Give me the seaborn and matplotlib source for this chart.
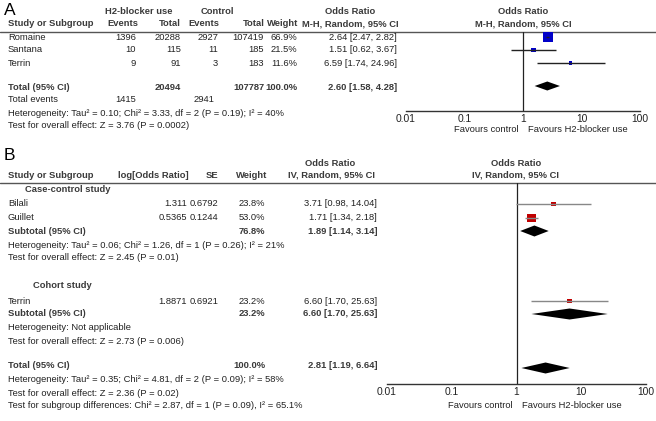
import numpy as np
import pandas as pd
import matplotlib.pyplot as plt
import seaborn as sns

# ---- data, panel A (M-H random) ----
studies_a = ["Romaine", "Santana", "Terrin"]
h2_events = [1396, 10, 9]
h2_total = [20288, 115, 91]
ctl_events = [2927, 11, 3]
ctl_total = [107419, 185, 183]
weight_a = [66.9, 21.5, 11.6]
or_a = [2.64, 1.51, 6.59]
lo_a = [2.47, 0.62, 1.74]
hi_a = [2.82, 3.67, 24.96]
total_a = [2.60, 1.58, 4.28]
total_n_a = [20494, 107787]
total_ev_a = [1415, 2941]

# ---- data, panel B (IV random, subgroups) ----
studies_b = ["Bilali", "Guillet", "Terrin"]
log_or_b = ["1.311", "0.5365", "1.8871"]
se_b = ["0.6792", "0.1244", "0.6921"]
weight_b = [23.8, 53.0, 23.2]
or_b = [3.71, 1.71, 6.60]
lo_b = [0.98, 1.34, 1.70]
hi_b = [14.04, 2.18, 25.63]
sub_names = ["Case-control study", "Cohort study"]
sub_weight = [76.8, 23.2]
sub_or = [[1.89, 1.14, 3.14], [6.60, 1.70, 25.63]]
total_b = [2.81, 1.19, 6.64]

ticks = [0.01, 0.1, 1, 10, 100]
tick_labels = ["0.01", "0.1", "1", "10", "100"]

sns.set_style("white")
plt.rcParams["font.family"] = ["Liberation Sans", "DejaVu Sans"]
FS = 6.75
TXT = "#222222"
HDR = "#3a3a3a"

W, H = 656, 421
fig = plt.figure(figsize=(W / 100, H / 100), dpi=100)
ov = fig.add_axes([0, 0, 1, 1])
ov.set_xlim(0, W)
ov.set_ylim(H, 0)
ov.axis("off")


def t(x, y, s, ha="left", bold=False, size=FS, color=None, va="center"):
    ov.text(x, y, s, ha=ha, va=va, fontsize=size,
            fontweight="bold" if bold else "normal",
            color=color or (HDR if bold else TXT))


def fmt_ci(v):
    return f"{v[0]:.2f} [{v[1]:.2f}, {v[2]:.2f}]"


def forest_axes(x0, x1, y0, y1):
    ax = fig.add_axes([x0 / W, 1 - y1 / H, (x1 - x0) / W, (y1 - y0) / H])
    ax.set_xscale("log")
    ax.set_xlim(0.01, 100)
    ax.set_ylim(y1, y0)
    ax.set_facecolor("none")
    for side in ["top", "left", "right"]:
        ax.spines[side].set_visible(False)
    ax.spines["bottom"].set_color("#333333")
    ax.spines["bottom"].set_linewidth(1.0)
    ax.set_xticks(ticks)
    ax.set_xticklabels(tick_labels)
    ax.minorticks_off()
    ax.set_yticks([])
    ax.tick_params(axis="x", direction="in", length=4.5, width=1,
                   color="#333333", labelsize=FS + 0.6, labelcolor=TXT, pad=2.5)
    ax.axvline(1, color="#222222", lw=0.9)
    return ax


def diamond(ax, vals, y, h=5):
    est, lo, hi = vals
    ax.fill([lo, est, hi, est], [y, y - h, y, y + h], color="black", lw=0)


def squares(ax, est, lo, hi, w, rows, color, line_color):
    ax.hlines(rows, lo, hi, color=line_color, lw=1.0)
    side = 0.54 * np.array(w) ** 0.7 * 0.72
    df = pd.DataFrame({"or": est, "row": rows})
    sns.scatterplot(data=df, x="or", y="row", ax=ax, marker="s",
                    s=side ** 2, color=color, linewidth=0, legend=False)
    ax.set_xlabel("")
    ax.set_ylabel("")


# ================= Panel A =================
t(4, 15, "A", size=12.5, color="black", va="baseline")
t(139, 12, "H2-blocker use", ha="center", bold=True)
t(217, 12, "Control", ha="center", bold=True)
t(350, 12, "Odds Ratio", ha="center", bold=True)
t(523, 12, "Odds Ratio", ha="center", bold=True)
t(8, 24, "Study or Subgroup", bold=True)
t(138, 24, "Events", ha="right", bold=True)
t(181, 24, "Total", ha="right", bold=True)
t(219, 24, "Events", ha="right", bold=True)
t(265, 24, "Total", ha="right", bold=True)
t(298, 24, "Weight", ha="right", bold=True)
t(350, 24, "M-H, Random, 95% CI", ha="center", bold=True)
t(523, 24, "M-H, Random, 95% CI", ha="center", bold=True)
ov.plot([0, W], [31.5, 31.5], color="#555555", lw=1.0)

rows_a = [37, 50, 63]
for i, y in enumerate(rows_a):
    t(8, y, studies_a[i])
    t(136, y, str(h2_events[i]), ha="right")
    t(181, y, str(h2_total[i]), ha="right")
    t(218, y, str(ctl_events[i]), ha="right")
    t(264, y, str(ctl_total[i]), ha="right")
    t(297, y, f"{weight_a[i]:.1f}%", ha="right")
    t(397, y, fmt_ci([or_a[i], lo_a[i], hi_a[i]]), ha="right")

ya = 88
t(8, ya, "Total (95% CI)", bold=True)
t(181, ya, str(total_n_a[0]), ha="right", bold=True)
t(264, ya, str(total_n_a[1]), ha="right", bold=True)
t(297, ya, "100.0%", ha="right", bold=True)
t(397, ya, fmt_ci(total_a), ha="right", bold=True)
t(8, 100, "Total events")
t(136, 100, str(total_ev_a[0]), ha="right")
t(214, 100, str(total_ev_a[1]), ha="right")
t(8, 113, "Heterogeneity: Tau\u00b2 = 0.10; Chi\u00b2 = 3.33, df = 2 (P = 0.19); I\u00b2 = 40%")
t(8, 125, "Test for overall effect: Z = 3.76 (P = 0.0002)")

axa = forest_axes(406, 640, 31.5, 111)
squares(axa, or_a, lo_a, hi_a, weight_a, rows_a, "#0000c8", "#222222")
diamond(axa, total_a, 86, 4.5)
t(519, 130, "Favours control", ha="right")
t(528, 130, "Favours H2-blocker use")

# ================= Panel B =================
t(4, 160, "B", size=12.5, color="black", va="baseline")
t(330, 163, "Odds Ratio", ha="center", bold=True)
t(516, 163, "Odds Ratio", ha="center", bold=True)
t(8, 175, "Study or Subgroup", bold=True)
t(189, 175, "log[Odds Ratio]", ha="right", bold=True)
t(218, 175, "SE", ha="right", bold=True)
t(267, 175, "Weight", ha="right", bold=True)
t(332, 175, "IV, Random, 95% CI", ha="center", bold=True)
t(516, 175, "IV, Random, 95% CI", ha="center", bold=True)
ov.plot([0, W], [183, 183], color="#555555", lw=1.0)

rows_b = [204, 218, 301]
t(25, 190, sub_names[0], bold=True)
t(33, 285, sub_names[1], bold=True)
for i, y in enumerate(rows_b):
    t(8, y, studies_b[i])
    t(187, y, log_or_b[i], ha="right")
    t(218, y, se_b[i], ha="right")
    t(265, y, f"{weight_b[i]:.1f}%", ha="right")
    t(377, y, fmt_ci([or_b[i], lo_b[i], hi_b[i]]), ha="right")

sub_rows = [231, 314]
for j, y in enumerate(sub_rows):
    t(8, y, "Subtotal (95% CI)", bold=True)
    t(265, y, f"{sub_weight[j]:.1f}%", ha="right", bold=True)
    t(377, y, fmt_ci(sub_or[j]), ha="right", bold=True)
t(8, 245, "Heterogeneity: Tau\u00b2 = 0.06; Chi\u00b2 = 1.26, df = 1 (P = 0.26); I\u00b2 = 21%")
t(8, 258, "Test for overall effect: Z = 2.45 (P = 0.01)")
t(8, 328, "Heterogeneity: Not applicable")
t(8, 341, "Test for overall effect: Z = 2.73 (P = 0.006)")

yb = 366
t(8, yb, "Total (95% CI)", bold=True)
t(265, yb, "100.0%", ha="right", bold=True)
t(377, yb, fmt_ci(total_b), ha="right", bold=True)
t(8, 379, "Heterogeneity: Tau\u00b2 = 0.35; Chi\u00b2 = 4.81, df = 2 (P = 0.09); I\u00b2 = 58%")
t(8, 393, "Test for overall effect: Z = 2.36 (P = 0.02)")
t(8, 406, "Test for subgroup differences: Chi\u00b2 = 2.87, df = 1 (P = 0.09), I\u00b2 = 65.1%")

axb = forest_axes(387, 646, 183, 384)
squares(axb, or_b, lo_b, hi_b, weight_b, rows_b, "#c00000", "#888888")
for j, y in enumerate(sub_rows):
    diamond(axb, sub_or[j], y, 5.5)
diamond(axb, total_b, 368, 5.5)
t(513, 406, "Favours control", ha="right")
t(522, 406, "Favours H2-blocker use")

fig.savefig("out.png", dpi=100)
